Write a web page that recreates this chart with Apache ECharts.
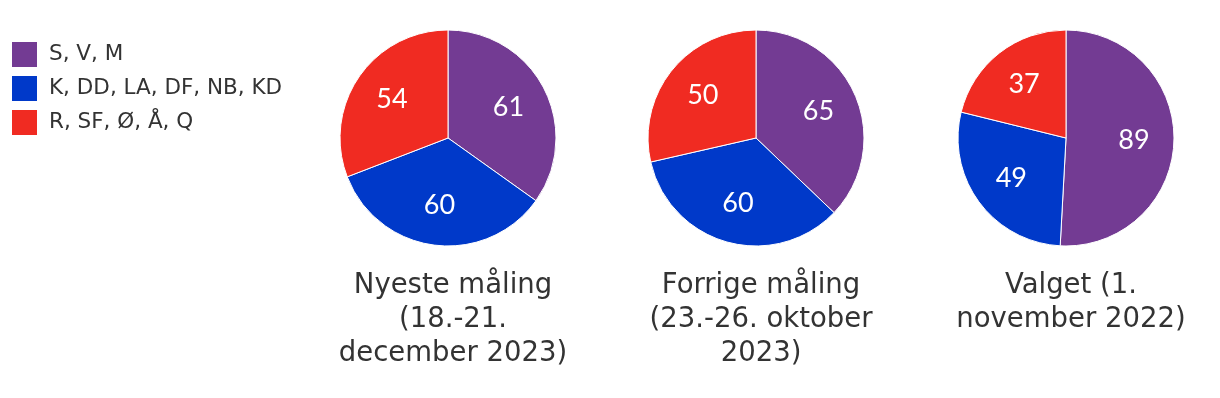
<!DOCTYPE html>
<html>
<head>
<meta charset="utf-8">
<script src="https://cdn.jsdelivr.net/npm/echarts@6/dist/echarts.min.js"></script>
<style>
  html, body { margin: 0; padding: 0; background: #fff; }
  #chart { width: 1220px; height: 398px; }
</style>
</head>
<body>
<div id="chart"></div>
<script>
// blokkene
const categories = ['S, V, M', 'K, DD, LA, DF, NB, KD', 'R, SF, Ø, Å, Q'];
const colors = ['#733b93', '#0039c9', '#f02b22'];

// mandater pr. måling
const nyeste = [61, 60, 54];
const forrige = [65, 60, 50];
const valget = [89, 49, 37];

const titles = [
  'Nyeste måling\n(18.-21.\ndecember 2023)',
  'Forrige måling\n(23.-26. oktober\n2023)',
  'Valget (1.\nnovember 2022)'
];

const chart = echarts.init(document.getElementById('chart'));

const centers = [448, 756, 1066];
const values = [nyeste, forrige, valget];

function toData(arr) {
  return arr.map(function (v, i) {
    return { name: categories[i], value: v };
  });
}

var series = [];
// synlige kager
values.forEach(function (arr, k) {
  series.push({
    type: 'pie',
    center: [centers[k], 138],
    radius: [0, 108],
    startAngle: 90,
    silent: true,
    label: { show: false },
    labelLine: { show: false },
    itemStyle: { borderColor: '#fff', borderWidth: 1 },
    data: toData(arr)
  });
});
// usynlige kager kun til tallene, saa de sidder lidt laengere ude
values.forEach(function (arr, k) {
  series.push({
    type: 'pie',
    center: [centers[k], 138],
    radius: [0, 130],
    startAngle: 90,
    silent: true,
    z: 3,
    label: {
      show: true,
      position: 'inner',
      color: '#fff',
      fontFamily: 'Lato',
      fontSize: 27,
      formatter: '{c}'
    },
    labelLine: { show: false },
    itemStyle: { color: 'rgba(0,0,0,0)', borderWidth: 0 },
    data: toData(arr)
  });
});

var option = {
  backgroundColor: '#ffffff',
  animation: false,
  color: colors,
  title: titles.map(function (t, k) {
    return {
      text: t,
      left: centers[k],
      top: 264,
      textAlign: 'center',
      textStyle: {
        color: '#333',
        fontFamily: 'DejaVu Sans',
        fontWeight: 'normal',
        fontSize: 27.5,
        lineHeight: 34
      }
    };
  }),
  legend: {
    orient: 'vertical',
    left: 5,
    top: 35,
    itemWidth: 27,
    itemHeight: 27,
    itemGap: 5,
    icon: 'rect',
    selectedMode: false,
    data: categories,
    textStyle: {
      color: '#333',
      fontFamily: 'DejaVu Sans',
      fontSize: 21.5,
      padding: [0, 0, 0, 6]
    }
  },
  series: series
};

chart.setOption(option);
</script>
</body>
</html>
